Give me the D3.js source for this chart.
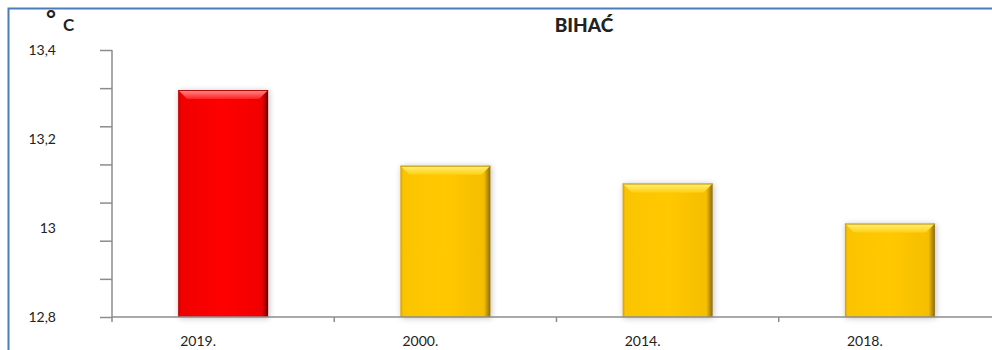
<!DOCTYPE html>
<html>
<head>
<meta charset="utf-8">
<script src="https://cdn.jsdelivr.net/npm/d3@7"></script>
<style>
  html, body { margin: 0; padding: 0; background: #fff; }
  svg { display: block; }
  text { font-family: Lato, "Open Sans", sans-serif; fill: #222; }
</style>
</head>
<body>
<svg id="chart" width="992" height="350"></svg>
<script>
// ---- data ----
const categories = ["2019.", "2000.", "2014.", "2018."];
const values = [13.31, 13.14, 13.10, 13.01];
const highlight = [true, false, false, false];
const yTickLabels = [12.8, 13.0, 13.2, 13.4];
const title = "BIHAĆ";
const unitLabel = "C";

// ---- layout ----
const W = 992, H = 350;
const plotLeft = 112, plotRight = 1001, plotTop = 50, plotBottom = 317;

const svg = d3.select("#chart");

// frame
svg.append("rect").attr("x", 8.5).attr("y", 8.5).attr("width", 1000).attr("height", 400)
  .attr("fill", "none").attr("stroke", "#4a7ebb").attr("stroke-width", 2);

const y = d3.scaleLinear().domain([12.8, 13.4]).range([plotBottom, plotTop]);
const x = d3.scaleBand().domain(categories).range([plotLeft, plotRight])
  .paddingInner(0.595).paddingOuter(0.2975);

const defs = svg.append("defs");
function makeGrad(id, stops) {
  const g = defs.append("linearGradient").attr("id", id).attr("x1", 0).attr("x2", 1).attr("y1", 0).attr("y2", 0);
  stops.forEach(s => g.append("stop").attr("offset", s[0]).attr("stop-color", s[1]));
}
makeGrad("gRed", [[0, "#b80000"], [0.03, "#f00000"], [0.5, "#ff0000"], [0.93, "#f00000"], [1, "#700000"]]);
makeGrad("gYel", [[0, "#d89c00"], [0.03, "#fac400"], [0.5, "#ffc800"], [0.93, "#f5be00"], [1, "#8a6a10"]]);
function makeVGrad(id, stops) {
  const g = defs.append("linearGradient").attr("id", id).attr("x1", 0).attr("x2", 0).attr("y1", 0).attr("y2", 1);
  stops.forEach(s => g.append("stop").attr("offset", s[0]).attr("stop-color", s[1]));
}
makeVGrad("topRed", [[0, "#ff9090"], [1, "#ff2020"]]);
makeVGrad("topYel", [[0, "#fff080"], [1, "#ffd010"]]);

const shadow = defs.append("filter").attr("id", "sh").attr("x", "-20%").attr("y", "-20%").attr("width", "140%").attr("height", "140%");
shadow.append("feGaussianBlur").attr("in", "SourceAlpha").attr("stdDeviation", 3).attr("result", "b");
shadow.append("feOffset").attr("in", "b").attr("dx", 1).attr("dy", 1).attr("result", "o");
shadow.append("feComponentTransfer").attr("in", "o").attr("result", "o2")
  .append("feFuncA").attr("type", "linear").attr("slope", 0.25);
const m = shadow.append("feMerge");
m.append("feMergeNode").attr("in", "o2");
m.append("feMergeNode").attr("in", "SourceGraphic");

// bars
const data = categories.map((c, i) => ({ c, v: values[i], hi: highlight[i] }));
const bw = x.bandwidth();
const gBars = svg.append("g");
const bars = gBars.selectAll("g.bar").data(data).join("g").attr("class", "bar").attr("filter", "url(#sh)");
bars.append("rect")
  .attr("x", d => x(d.c)).attr("y", d => y(d.v))
  .attr("width", bw).attr("height", d => y(12.8) - y(d.v))
  .attr("fill", d => d.hi ? "url(#gRed)" : "url(#gYel)");
bars.append("path")
  .attr("d", d => {
    const x0 = x(d.c), y0 = y(d.v), bv = 9;
    return `M${x0},${y0} L${x0 + bw},${y0} L${x0 + bw - bv},${y0 + bv} L${x0 + bv},${y0 + bv} Z`;
  })
  .attr("fill", d => d.hi ? "url(#topRed)" : "url(#topYel)");
bars.append("line")
  .attr("x1", d => x(d.c)).attr("x2", d => x(d.c) + bw)
  .attr("y1", d => y(d.v) + 0.5).attr("y2", d => y(d.v) + 0.5)
  .attr("stroke", d => d.hi ? "#b00000" : "#c09000").attr("stroke-width", 1);

// y axis tick marks
const markVals = d3.range(8).map(i => 12.8 + i * 0.6 / 7);
const axisColor = "#8c8c8c";
const yAxis = svg.append("g").attr("transform", `translate(${plotLeft},0)`)
  .call(d3.axisLeft(y).tickValues(markVals).tickSize(12).tickFormat(""));
yAxis.select(".domain").remove();
yAxis.selectAll("line").attr("stroke", axisColor).attr("stroke-width", 1.5);
svg.append("line").attr("x1", plotLeft).attr("x2", plotLeft).attr("y1", plotTop).attr("y2", plotBottom + 5)
  .attr("stroke", axisColor).attr("stroke-width", 1.5);

// y labels
const fmt = v => String(+v.toFixed(1)).replace(".", ",");
svg.append("g").selectAll("text").data(yTickLabels).join("text")
  .attr("x", 56).attr("y", d => y(d)).attr("dy", "0.35em")
  .attr("text-anchor", "end").attr("font-size", 14).text(fmt);

// x axis
svg.append("line").attr("x1", plotLeft).attr("x2", W).attr("y1", plotBottom).attr("y2", plotBottom)
  .attr("stroke", axisColor).attr("stroke-width", 1.5);
svg.append("g").selectAll("line").data(categories.slice(1)).join("line")
  .attr("x1", c => x(c) - (x.step() - bw) / 2).attr("x2", c => x(c) - (x.step() - bw) / 2)
  .attr("y1", plotBottom).attr("y2", plotBottom + 5)
  .attr("stroke", axisColor).attr("stroke-width", 1.5);
svg.append("g").selectAll("text").data(categories).join("text")
  .attr("x", c => x(c) + bw / 2 - 25).attr("y", 341).attr("dy", "0.35em")
  .attr("text-anchor", "middle").attr("font-size", 14).text(c => c);

// title & unit
svg.append("text").attr("x", 584).attr("y", 25).attr("dy", "0.35em")
  .attr("text-anchor", "middle").attr("font-size", 19).attr("font-weight", 900).text(title);
svg.append("text").attr("x", 46).attr("y", 28).attr("font-size", 24).attr("font-weight", "bold").text("°");
svg.append("text").attr("x", 63).attr("y", 31).attr("font-size", 17).attr("font-weight", "bold").text(unitLabel);
</script>
</body>
</html>
